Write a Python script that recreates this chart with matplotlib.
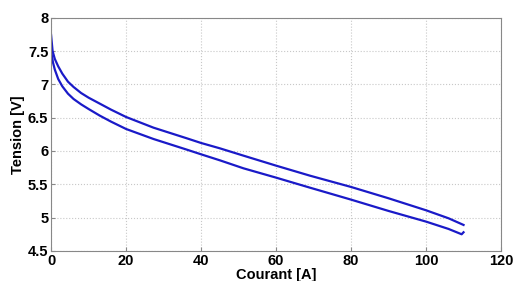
import numpy as np
import matplotlib.pyplot as plt

plt.rcParams['font.family'] = ['Liberation Sans', 'DejaVu Sans']

# courbe haute
x_haut = [0, 0.4, 1, 1.9, 3, 4.5, 6, 8, 10, 13, 16, 20, 27.3, 36.2, 40, 45, 51.3, 60,
          69, 80, 90, 100, 106, 110]
v_haut = [7.74, 7.50, 7.38, 7.27, 7.16, 7.04, 6.96, 6.87, 6.80, 6.71, 6.62, 6.51, 6.35,
          6.19, 6.12, 6.04, 5.93, 5.78, 5.63, 5.46, 5.29, 5.11, 4.99, 4.89]

# courbe basse
x_bas = [0, 0.5, 1, 1.9, 3, 4.5, 6, 8, 10, 13, 16, 20, 27.3, 36.2, 40, 45, 51.3, 60,
         69, 80, 90, 100, 106, 109.5, 110]
v_bas = [7.50, 7.33, 7.22, 7.08, 6.97, 6.86, 6.78, 6.70, 6.63, 6.53, 6.44, 6.33, 6.18,
         6.02, 5.95, 5.86, 5.74, 5.60, 5.45, 5.27, 5.10, 4.94, 4.83, 4.75, 4.78]

fig = plt.figure(figsize=(5.16, 2.81), dpi=100)
ax = fig.add_axes([0.099, 0.107, 0.872, 0.830])

ax.plot(x_haut, v_haut, color='#1a1ac8', lw=1.6)
ax.plot(x_bas, v_bas, color='#1a1ac8', lw=1.6)

ax.set_xlim(0, 120)
ax.set_ylim(4.5, 8)
ax.set_xticks(np.arange(0, 121, 20))
ax.set_yticks([4.5, 5, 5.5, 6, 6.5, 7, 7.5, 8])
ax.set_yticklabels(['4.5', '5', '5.5', '6', '6.5', '7', '7.5', '8'])
ax.grid(True, ls=':', color='#c8c8c8', lw=0.8)
ax.tick_params(direction='in', length=3, color='#888888', labelsize=10.5, pad=2)
for lab in ax.get_xticklabels() + ax.get_yticklabels():
    lab.set_fontweight('bold')
for s in ax.spines.values():
    s.set_color('#888888')

ax.set_xlabel('Courant [A]', fontsize=10.5, fontweight='bold', labelpad=0)
ax.set_ylabel('Tension [V]', fontsize=10.5, fontweight='bold', labelpad=2)

fig.savefig('out.png', dpi=100)
